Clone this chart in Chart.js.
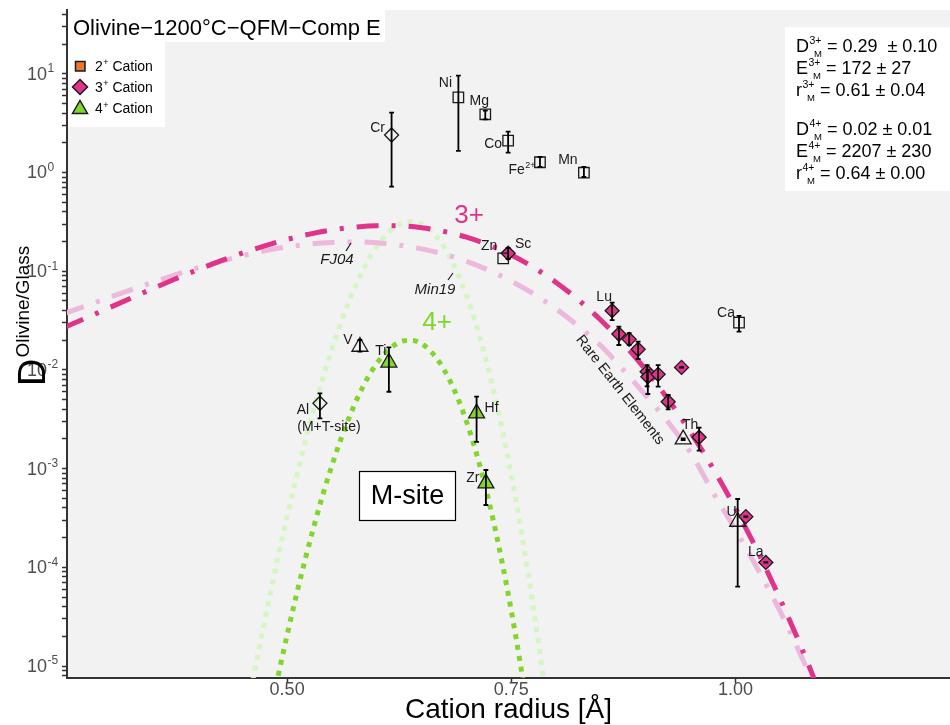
<!DOCTYPE html>
<html>
<head>
<meta charset="utf-8">
<script src="https://cdn.jsdelivr.net/npm/chart.js@4.4.1/dist/chart.umd.min.js"></script>
<style>
  html, body { margin: 0; padding: 0; background: #ffffff; overflow: hidden; }
  #wrap { width: 950px; height: 725px; overflow: hidden; }
  canvas { display: block; }
</style>
</head>
<body>
<div id="wrap"><canvas id="c" width="950" height="725"></canvas></div>
<script>
// ---------- axis ranges and ticks ----------
const X_MIN = 0.2545, X_MAX = 1.2393;          // cation radius [Å]
const Y_MIN = 7.56e-6, Y_MAX = 44.3;           // D olivine/glass
const xTickValues = [0.50, 0.75, 1.00];
const yDecadeExponents = [-5, -4, -3, -2, -1, 0, 1];

// ---------- 2+ cations (open squares) ----------
const cat2Names  = ['Ni', 'Mg', 'Co', 'Fe', 'Mn', 'Zn', 'Ca'];
const cat2Radius = [0.691, 0.721, 0.7465, 0.782, 0.831, 0.741, 1.004];
const cat2D      = [5.78, 3.89, 2.10, 1.27, 0.995, 0.135, 0.0301];
const cat2Lo     = [1.66, 3.46, 1.59, 1.14, 0.90, null, 0.0244];
const cat2Hi     = [9.57, 4.23, 2.59, 1.44, 1.14, null, 0.0352];

// ---------- 3+ cations, filled diamonds (Sc + REE) ----------
const cat3Names  = ['Sc', 'Lu', 'Yb', 'Tm', 'Er', 'Ho', 'Y', 'Dy', 'Tb', 'Gd', 'Sm', 'Ce', 'La'];
const cat3Radius = [0.7465, 0.8625, 0.870, 0.8815, 0.8915, 0.9015, 0.9023, 0.9138, 0.925, 0.9399, 0.9595, 1.0116, 1.0339];
const cat3D      = [0.152, 0.0398, 0.0231, 0.0204, 0.0162, 0.00959, 0.00853, 0.00902, 0.00476, 0.0106, 0.00208, 3.26e-4, 1.12e-4];
const cat3Lo     = [0.133, 0.0320, 0.01787, 0.0179, 0.0129, 0.0068, 0.0057, 0.00676, 0.00399, 0.01055, 0.00152, 3.24e-4, 1.115e-4];
const cat3Hi     = [0.172, 0.0480, 0.0274, 0.0236, 0.0193, 0.0112, 0.0100, 0.0112, 0.00557, 0.01065, 0.00260, 3.28e-4, 1.125e-4];

// ---------- 3+ cations, open diamonds ----------
const cat3oNames  = ['Cr', 'Al'];
const cat3oRadius = [0.6165, 0.5366];
const cat3oD      = [2.40, 0.00459];
const cat3oLo     = [0.718, 0.00323];
const cat3oHi     = [4.04, 0.00579];

// ---------- 4+ cations, filled triangles ----------
const cat4Names  = ['Ti', 'Hf', 'Zr'];
const cat4Radius = [0.6135, 0.7113, 0.7217];
const cat4D      = [0.0119, 0.00363, 7.10e-4];
const cat4Lo     = [0.00601, 0.00187, 4.28e-4];
const cat4Hi     = [0.01694, 0.00535, 9.68e-4];

// ---------- 4+ cations, open triangles ----------
const cat4oNames  = ['V', 'Th', 'U'];
const cat4oRadius = [0.5812, 0.9417, 1.0025];
const cat4oD      = [0.0172, 0.00198, 2.90e-4];
const cat4oLo     = [0.0153, 0.00194, 6.36e-5];
const cat4oHi     = [0.0201, 0.00202, 4.92e-4];

// ---------- lattice-strain fit curves ----------
const fit3Radius = [0.25, 0.275, 0.30, 0.325, 0.35, 0.375, 0.40, 0.425, 0.45, 0.475, 0.50, 0.525, 0.55, 0.575,
  0.60, 0.625, 0.65, 0.675, 0.70, 0.725, 0.75, 0.775, 0.80, 0.825, 0.85, 0.875, 0.90, 0.925, 0.95, 0.975,
  1.00, 1.025, 1.05, 1.075, 1.10];
const fit3D = [0.02656, 0.03334, 0.04200, 0.05295, 0.06656, 0.08326, 0.1032, 0.1264, 0.1526, 0.1808, 0.2098,
  0.2376, 0.2618, 0.2797, 0.2891, 0.2880, 0.2756, 0.2527, 0.2213, 0.1844, 0.1458, 0.1091, 0.0770, 0.0511,
  0.0318, 0.01846, 0.00999, 0.00502, 0.00234, 0.001002, 3.96e-4, 1.433e-4, 4.74e-5, 1.43e-5, 3.92e-6];
// FJ04 reference curve (3+)
const fj04D = [0.0369, 0.0444, 0.0535, 0.0644, 0.0771, 0.0916, 0.1079, 0.1253, 0.1432, 0.1607, 0.1762,
  0.1884, 0.1959, 0.1982, 0.1941, 0.1837, 0.1683, 0.1486, 0.1259, 0.1023, 0.0794, 0.0589, 0.0415, 0.0277,
  0.01754, 0.0100, 0.00550, 0.00295, 0.00145, 5.75e-4, 2.40e-4, 9.55e-5, 3.55e-5, 1.17e-5, 3.55e-6];
// Min19 reference curve (4+)
const min19Radius = [0.45, 0.46, 0.47, 0.48, 0.49, 0.50, 0.51, 0.52, 0.53, 0.54, 0.55, 0.56, 0.57, 0.58,
  0.59, 0.60, 0.61, 0.62, 0.63, 0.64, 0.65, 0.66, 0.67, 0.68, 0.69, 0.70, 0.71, 0.72, 0.73, 0.74, 0.75,
  0.76, 0.77, 0.78, 0.79];
const min19D = [1.97e-6, 5.96e-6, 1.73e-5, 4.81e-5, 1.29e-4, 3.28e-4, 7.96e-4, 1.85e-3, 4.05e-3, 8.39e-3,
  0.0164, 0.0302, 0.0521, 0.0841, 0.127, 0.178, 0.232, 0.280, 0.311, 0.319, 0.301, 0.259, 0.205, 0.147,
  0.0959, 0.0568, 0.0304, 0.0147, 6.35e-3, 2.47e-3, 8.61e-4, 2.67e-4, 7.38e-5, 1.81e-5, 3.93e-6];
// 4+ fit
const fit4Radius = [0.48, 0.49, 0.50, 0.51, 0.52, 0.53, 0.54, 0.55, 0.56, 0.57, 0.58, 0.59, 0.60, 0.61,
  0.62, 0.63, 0.64, 0.65, 0.66, 0.67, 0.68, 0.69, 0.70, 0.71, 0.72, 0.73, 0.74, 0.75, 0.76, 0.77];
const fit4D = [2.92e-6, 7.94e-6, 2.06e-5, 5.07e-5, 1.19e-4, 2.63e-4, 5.50e-4, 1.08e-3, 1.99e-3, 3.44e-3,
  5.56e-3, 8.36e-3, 0.0116, 0.0150, 0.0179, 0.0197, 0.0199, 0.0184, 0.0155, 0.0119, 8.30e-3, 5.26e-3,
  3.00e-3, 1.55e-3, 7.16e-4, 2.96e-4, 1.10e-4, 3.63e-5, 1.07e-5, 2.77e-6];

// ---------- text blocks ----------
const plotTitle = 'Olivine\u22121200°C\u2212QFM\u2212Comp E';
const legendItems = [
  { charge: '2', label: ' Cation' },
  { charge: '3', label: ' Cation' },
  { charge: '4', label: ' Cation' }
];
const fitRows = [
  { sym: 'D', sup: '3+', val: ' = 0.29  \u00b1 0.10' },
  { sym: 'E', sup: '3+', val: ' = 172 \u00b1 27' },
  { sym: 'r', sup: '3+', val: ' = 0.61 \u00b1 0.04' },
  { sym: 'D', sup: '4+', val: ' = 0.02 \u00b1 0.01' },
  { sym: 'E', sup: '4+', val: ' = 2207 \u00b1 230' },
  { sym: 'r', sup: '4+', val: ' = 0.64 \u00b1 0.00' }
];

// element labels: offset of the text centre from its marker, in px
const elementLabels = [
  { name: 'Ni', dx: -13, dy: -14 }, { name: 'Mg', dx: -6, dy: -13 }, { name: 'Cr', dx: -14, dy: -7 },
  { name: 'Co', dx: -15, dy: 3 }, { name: 'Fe', sup: '2+', dx: -18, dy: 8 }, { name: 'Mn', dx: -16, dy: -13 },
  { name: 'Zn', dx: -14, dy: -12 }, { name: 'Sc', dx: 15, dy: -9 }, { name: 'Ca', dx: -13, dy: -10 },
  { name: 'Lu', dx: -8, dy: -14 }, { name: 'Th', dx: 7, dy: -14 }, { name: 'U', dx: -6, dy: -10 },
  { name: 'La', dx: -10, dy: -10 }, { name: 'V', dx: -12, dy: -7 }, { name: 'Ti', dx: -8, dy: -11 },
  { name: 'Al', dx: -17, dy: 7 }, { name: 'Hf', dx: 15, dy: -5 }, { name: 'Zr', dx: -13, dy: -5 }
];

// ---------- colours ----------
const PINK = '#e0338a', PINK_LIGHT = '#ecb8db';
const GREEN = '#80d62b', GREEN_LIGHT = '#d4f6c3';
const ORANGE = '#e8782e';
const PLOT_BG = '#f1f2f1';
const INK = '#1a1a1a';
const FONT = '"Liberation Sans", Arial, Helvetica, sans-serif';

const pts = (xs, ys) => xs.map((x, i) => ({ x: x, y: ys[i] }));

const markerGroups = [
  { names: cat2Names, r: cat2Radius, d: cat2D, lo: cat2Lo, hi: cat2Hi },
  { names: cat3Names, r: cat3Radius, d: cat3D, lo: cat3Lo, hi: cat3Hi },
  { names: cat3oNames, r: cat3oRadius, d: cat3oD, lo: cat3oLo, hi: cat3oHi },
  { names: cat4Names, r: cat4Radius, d: cat4D, lo: cat4Lo, hi: cat4Hi },
  { names: cat4oNames, r: cat4oRadius, d: cat4oD, lo: cat4oLo, hi: cat4oHi }
];

function markerSet(label, r, d, style, radius, fill) {
  return {
    label: label, data: pts(r, d), showLine: false,
    pointStyle: style, pointRadius: radius, pointHoverRadius: radius,
    pointBackgroundColor: fill, pointBorderColor: INK, pointBorderWidth: 1.3
  };
}
function curveSet(label, r, d, color, dash) {
  return {
    label: label, data: pts(r, d), showLine: true, pointRadius: 0, pointHoverRadius: 0,
    borderColor: color, borderWidth: 5, borderDash: dash, borderCapStyle: 'butt',
    cubicInterpolationMode: 'monotone', fill: false
  };
}

function drawSup(ctx, x, y, base, sup, baseSize, supSize, rise, color) {
  ctx.fillStyle = color;
  ctx.textAlign = 'left';
  ctx.font = baseSize + 'px ' + FONT;
  ctx.fillText(base, x, y);
  let w = ctx.measureText(base).width;
  if (sup) {
    ctx.font = supSize + 'px ' + FONT;
    ctx.fillText(sup, x + w + 0.5, y - rise);
    w += ctx.measureText(sup).width + 0.5;
  }
  return w;
}
function measureSup(ctx, base, sup, baseSize, supSize) {
  ctx.font = baseSize + 'px ' + FONT;
  let w = ctx.measureText(base).width;
  if (sup) { ctx.font = supSize + 'px ' + FONT; w += ctx.measureText(sup).width + 0.5; }
  return w;
}

const decor = {
  id: 'decor',
  beforeDraw(chart) {
    const { ctx, chartArea: a } = chart;
    ctx.save();
    ctx.fillStyle = '#ffffff';
    ctx.fillRect(0, 0, chart.width, chart.height);
    ctx.fillStyle = PLOT_BG;
    ctx.fillRect(a.left, a.top, a.right - a.left, a.bottom - a.top);
    ctx.restore();
  },
  afterDatasetsDraw(chart) {
    const { ctx, chartArea: a } = chart;
    const xs = chart.scales.x, ys = chart.scales.y;
    ctx.save();
    ctx.beginPath();
    ctx.rect(a.left, a.top, a.right - a.left, a.bottom - a.top);
    ctx.clip();

    // error bars
    ctx.strokeStyle = '#000';
    ctx.lineWidth = 1.8;
    ctx.lineCap = 'butt';
    markerGroups.forEach(g => {
      g.r.forEach((r, i) => {
        if (g.lo[i] == null) return;
        const px = xs.getPixelForValue(r);
        const y1 = ys.getPixelForValue(g.lo[i]), y2 = ys.getPixelForValue(g.hi[i]);
        ctx.beginPath();
        ctx.moveTo(px, y1); ctx.lineTo(px, y2);
        ctx.moveTo(px - 2.4, y1); ctx.lineTo(px + 2.4, y1);
        ctx.moveTo(px - 2.4, y2); ctx.lineTo(px + 2.4, y2);
        ctx.stroke();
      });
    });

    // element labels
    const where = {};
    markerGroups.forEach(g => g.names.forEach((n, i) => { where[n] = [g.r[i], g.d[i]]; }));
    ctx.textBaseline = 'middle';
    elementLabels.forEach(l => {
      const p = where[l.name];
      const cx = xs.getPixelForValue(p[0]) + l.dx, cy = ys.getPixelForValue(p[1]) + l.dy;
      const w = measureSup(ctx, l.name, l.sup, 14, 9);
      drawSup(ctx, cx - w / 2, cy, l.name, l.sup, 14, 9, 5, INK);
    });
    // extra note under Al
    const al = where['Al'];
    ctx.font = '14px ' + FONT;
    ctx.textAlign = 'center';
    ctx.fillStyle = INK;
    ctx.fillText('(M+T-site)', xs.getPixelForValue(al[0]) + 9, ys.getPixelForValue(al[1]) + 24);

    // curve annotations
    ctx.font = '26px ' + FONT;
    ctx.fillStyle = PINK;
    ctx.fillText('3+', 469, 216);
    ctx.fillStyle = GREEN;
    ctx.fillText('4+', 437, 323);

    ctx.fillStyle = INK;
    ctx.font = 'italic 15px ' + FONT;
    ctx.fillText('FJ04', 337, 260);
    ctx.fillText('Min19', 435, 290);
    ctx.strokeStyle = INK;
    ctx.lineWidth = 1.2;
    ctx.beginPath();
    ctx.moveTo(346, 251); ctx.lineTo(351, 243);
    ctx.moveTo(448, 280); ctx.lineTo(453, 273);
    ctx.stroke();

    ctx.save();
    ctx.translate(620, 390);
    ctx.rotate(52 * Math.PI / 180);
    ctx.font = '14.5px ' + FONT;
    ctx.fillStyle = INK;
    ctx.fillText('Rare Earth Elements', 0, 0);
    ctx.restore();

    // site box
    ctx.fillStyle = '#ffffff';
    ctx.fillRect(359.5, 471.5, 96, 49);
    ctx.strokeStyle = '#000';
    ctx.lineWidth = 1.2;
    ctx.strokeRect(359.5, 471.5, 96, 49);
    ctx.fillStyle = '#000';
    ctx.font = '27px ' + FONT;
    ctx.fillText('M-site', 407.5, 497);

    // title box and legend
    ctx.fillStyle = '#ffffff';
    ctx.fillRect(68, 10, 317, 32);
    ctx.fillRect(68, 42, 97, 85);
    ctx.textAlign = 'left';
    ctx.textBaseline = 'alphabetic';
    ctx.fillStyle = '#000';
    ctx.font = '22px ' + FONT;
    ctx.fillText(plotTitle, 73, 35);

    const ly = [66, 87, 108.5];
    ctx.lineWidth = 1.5;
    ctx.strokeStyle = INK;
    ctx.fillStyle = ORANGE;
    ctx.fillRect(75.5, 61.5, 9.5, 9.5);
    ctx.strokeRect(75.5, 61.5, 9.5, 9.5);
    ctx.fillStyle = PINK;
    ctx.beginPath();
    ctx.moveTo(80, ly[1] - 7.5); ctx.lineTo(87.5, ly[1]); ctx.lineTo(80, ly[1] + 7.5); ctx.lineTo(72.5, ly[1]);
    ctx.closePath(); ctx.fill(); ctx.stroke();
    ctx.fillStyle = GREEN;
    ctx.beginPath();
    ctx.moveTo(80, ly[2] - 8); ctx.lineTo(87.5, ly[2] + 5); ctx.lineTo(72.5, ly[2] + 5);
    ctx.closePath(); ctx.fill(); ctx.stroke();
    ctx.textBaseline = 'middle';
    legendItems.forEach((it, i) => {
      ctx.fillStyle = '#000';
      ctx.font = '14px ' + FONT;
      ctx.fillText(it.charge, 95, ly[i] + 1);
      let w = ctx.measureText(it.charge).width;
      ctx.font = '9px ' + FONT;
      ctx.fillText('+', 95 + w + 0.5, ly[i] - 3);
      w += ctx.measureText('+').width + 0.5;
      ctx.font = '14px ' + FONT;
      ctx.fillText(it.label, 95 + w, ly[i] + 1);
    });

    // fit parameter box
    ctx.fillStyle = '#ffffff';
    ctx.fillRect(785, 27, 165, 164);
    const rowY = [46, 68, 90, 129, 151, 173];
    ctx.textBaseline = 'alphabetic';
    fitRows.forEach((row, i) => {
      const base = rowY[i] + 6;
      const x0 = 796;
      ctx.fillStyle = '#000';
      ctx.font = '18px ' + FONT;
      ctx.fillText(row.sym, x0, base);
      const sw = ctx.measureText(row.sym).width;
      ctx.font = '10.5px ' + FONT;
      ctx.fillText(row.sup, x0 + sw + 0.5, base - 8.5);
      const supEnd = x0 + sw + 0.5 + ctx.measureText(row.sup).width;
      ctx.font = '9.5px ' + FONT;
      ctx.fillText('M', x0 + sw + 5, base + 5);
      const subEnd = x0 + sw + 5 + ctx.measureText('M').width;
      ctx.font = '18px ' + FONT;
      ctx.fillText(row.val, Math.max(supEnd, subEnd), base);
    });
    ctx.restore();
  },
  afterDraw(chart) {
    const { ctx } = chart;
    const xs = chart.scales.x, ys = chart.scales.y;
    ctx.save();
    // y tick labels 10^n
    ctx.fillStyle = '#4d4d4d';
    ctx.textBaseline = 'middle';
    ctx.textAlign = 'left';
    yDecadeExponents.forEach(e => {
      const y = ys.getPixelForValue(Math.pow(10, e));
      ctx.font = '18px ' + FONT;
      ctx.fillText('10', 27, y + 1);
      const w = ctx.measureText('10').width;
      ctx.font = '12px ' + FONT;
      ctx.fillText(String(e), 27 + w + 0.5, y - 5);
    });
    // x tick labels
    ctx.textAlign = 'center';
    ctx.font = '18px ' + FONT;
    xTickValues.forEach(v => {
      ctx.fillText(v.toFixed(2), xs.getPixelForValue(v), 690);
    });
    // x title
    ctx.fillStyle = '#000';
    ctx.textBaseline = 'alphabetic';
    ctx.font = '28px ' + FONT;
    ctx.fillText('Cation radius [\u00c5]', (chart.chartArea.left + chart.chartArea.right) / 2, 718);
    // y title
    ctx.translate(45, 386);
    ctx.rotate(-Math.PI / 2);
    ctx.textAlign = 'left';
    ctx.font = '38px ' + FONT;
    ctx.fillText('D', 0, 0);
    const dw = ctx.measureText('D').width;
    ctx.font = '19px ' + FONT;
    ctx.fillText('Olivine/Glass', dw + 1, -16);
    ctx.restore();
  }
};

new Chart(document.getElementById('c'), {
  type: 'scatter',
  data: {
    datasets: [
      markerSet('2+ open', cat2Radius, cat2D, 'rect', 7.4, 'rgba(0,0,0,0)'),
      markerSet('3+ filled', cat3Radius, cat3D, 'rectRot', 7, PINK),
      markerSet('3+ open', cat3oRadius, cat3oD, 'rectRot', 7, 'rgba(0,0,0,0)'),
      markerSet('4+ filled', cat4Radius, cat4D, 'triangle', 9.2, GREEN),
      markerSet('4+ open', cat4oRadius, cat4oD, 'triangle', 9.2, 'rgba(0,0,0,0)'),
      curveSet('3+ fit', fit3Radius, fit3D, PINK, [22, 13, 4, 13]),
      curveSet('4+ fit', fit4Radius, fit4D, GREEN, [5, 6]),
      curveSet('FJ04', fit3Radius, fj04D, PINK_LIGHT, [22, 13, 4, 13]),
      curveSet('Min19', min19Radius, min19D, GREEN_LIGHT, [5, 6])
    ]
  },
  options: {
    responsive: false,
    maintainAspectRatio: false,
    animation: false,
    devicePixelRatio: 1,
    layout: { autoPadding: false, padding: { top: 10, right: 0, bottom: 0, left: 0 } },
    plugins: { legend: { display: false }, tooltip: { enabled: false } },
    events: [],
    scales: {
      x: {
        type: 'linear', min: X_MIN, max: X_MAX,
        afterFit(s) { s.height = 47; },
        afterBuildTicks(s) { s.ticks = xTickValues.map(v => ({ value: v })); },
        ticks: { display: false },
        grid: { drawOnChartArea: false, drawTicks: true, tickLength: 5, tickColor: '#333', tickWidth: 1.5 },
        border: { display: true, color: '#333', width: 2 }
      },
      y: {
        type: 'logarithmic', min: Y_MIN, max: Y_MAX,
        afterFit(s) { s.width = 67; },
        afterBuildTicks(s) {
          const t = [];
          for (let e = -6; e <= 1; e++) {
            for (let k = 1; k <= 9; k++) {
              const v = k * Math.pow(10, e);
              if (v >= Y_MIN && v <= Y_MAX) t.push({ value: v, major: k === 1 });
            }
          }
          s.ticks = t;
        },
        ticks: { display: false },
        grid: { drawOnChartArea: false, drawTicks: true, tickLength: 5, tickColor: '#333', tickWidth: 1.5 },
        border: { display: true, color: '#333', width: 2 }
      }
    }
  },
  plugins: [decor]
});
</script>
</body>
</html>
